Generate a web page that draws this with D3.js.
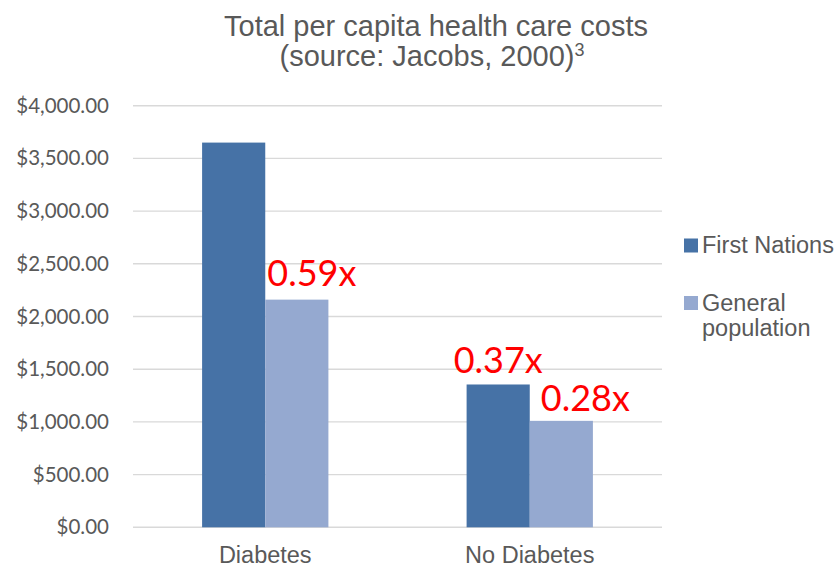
<!DOCTYPE html>
<html>
<head>
<meta charset="utf-8">
<script src="https://cdn.jsdelivr.net/npm/d3@7"></script>
<style>
  body { margin: 0; background: #fff; }
  svg { display: block; }
</style>
</head>
<body>
<script>
// chart data
const categories = ['Diabetes', 'No Diabetes'];
const seriesNames = ['First Nations', 'General population'];
const firstNations = [3650, 1355];
const generalPopulation = [2160, 1010];
const yTicks = [0, 500, 1000, 1500, 2000, 2500, 3000, 3500, 4000];
const ratioLabels = [
  { category: 'Diabetes', series: 1, text: '0.59x' },
  { category: 'No Diabetes', series: 0, text: '0.37x' },
  { category: 'No Diabetes', series: 1, text: '0.28x' }
];

const W = 838, H = 567;
const margin = { top: 105.7, right: 176, bottom: 39.7, left: 133 };
const width = W - margin.left - margin.right;
const height = H - margin.top - margin.bottom;
const colors = ['#4672a6', '#95a9d0'];
const textGrey = '#595959';

const svg = d3.select('body').append('svg')
  .attr('width', W)
  .attr('height', H);

// title
const title = svg.append('text')
  .attr('text-anchor', 'middle')
  .attr('font-family', 'Liberation Sans, Arial, sans-serif')
  .attr('font-size', 29)
  .attr('fill', textGrey);
title.append('tspan').attr('x', 436).attr('y', 35.5).text('Total per capita health care costs');
const t2 = title.append('tspan').attr('x', 432).attr('y', 66);
t2.append('tspan').text('(source: Jacobs, 2000)');
t2.append('tspan').attr('font-size', 18).attr('dy', -10).text('3');

const g = svg.append('g')
  .attr('transform', `translate(${margin.left},${margin.top})`);

const x = d3.scaleBand()
  .domain(categories)
  .range([0, width])
  .paddingInner(0.5225)
  .paddingOuter(0.5225 / 2);

const x1 = d3.scaleBand()
  .domain(d3.range(seriesNames.length))
  .range([0, x.bandwidth()]);

const y = d3.scaleLinear()
  .domain([0, 4000])
  .range([height, 0]);

// gridlines
g.append('g')
  .selectAll('line')
  .data(yTicks)
  .join('line')
  .attr('x1', 0)
  .attr('x2', width)
  .attr('y1', d => y(d))
  .attr('y2', d => y(d))
  .attr('stroke', '#d9d9d9')
  .attr('stroke-width', 1.4);

// y axis labels
const fmt = d3.format('$,.2f');
const yAxis = g.append('g')
  .call(d3.axisLeft(y).tickValues(yTicks).tickFormat(fmt).tickSize(0).tickPadding(24));
yAxis.select('.domain').remove();
yAxis.selectAll('text')
  .attr('font-family', 'Lato, Open Sans, sans-serif')
  .attr('font-size', 20.5)
  .attr('fill', textGrey);

// x axis labels
const xAxis = g.append('g')
  .attr('transform', `translate(0,${height})`)
  .call(d3.axisBottom(x).tickSize(0).tickPadding(19));
xAxis.select('.domain').remove();
xAxis.selectAll('text')
  .attr('font-family', 'Liberation Sans, Arial, sans-serif')
  .attr('font-size', 23.5)
  .attr('fill', textGrey);

// bars
const seriesValues = [firstNations, generalPopulation];
const groups = g.append('g')
  .selectAll('g')
  .data(categories)
  .join('g')
  .attr('transform', d => `translate(${x(d)},0)`);

groups.selectAll('rect')
  .data((c, ci) => seriesValues.map((vals, si) => ({ si, v: vals[ci] })))
  .join('rect')
  .attr('x', d => x1(d.si))
  .attr('width', x1.bandwidth())
  .attr('y', d => y(d.v))
  .attr('height', d => height - y(d.v))
  .attr('fill', d => colors[d.si]);

// ratio annotations
const labelPlacement = [
  { anchor: 'start', dx: 2, dy: -14 },
  { anchor: 'middle', dx: 0, dy: -11.5 },
  { anchor: 'start', dx: 11, dy: -9.5 }
];
g.append('g')
  .selectAll('text')
  .data(ratioLabels)
  .join('text')
  .attr('x', (d, i) => {
    const left = x(d.category) + x1(d.series);
    const p = labelPlacement[i];
    return (p.anchor === 'middle' ? left + x1.bandwidth() / 2 : left) + p.dx;
  })
  .attr('y', (d, i) => {
    const ci = categories.indexOf(d.category);
    return y(seriesValues[d.series][ci]) + labelPlacement[i].dy;
  })
  .attr('text-anchor', (d, i) => labelPlacement[i].anchor)
  .attr('font-family', 'Lato, Open Sans, sans-serif')
  .attr('font-size', 36)
  .attr('fill', '#ff0000')
  .text(d => d.text);

// legend
const legend = svg.append('g')
  .attr('font-family', 'Liberation Sans, Arial, sans-serif')
  .attr('font-size', 23.5)
  .attr('fill', textGrey);

const legendRows = [
  { y: 238.5, lines: ['First Nations'] },
  { y: 296, lines: ['General', 'population'] }
];
legendRows.forEach((row, i) => {
  legend.append('rect')
    .attr('x', 684)
    .attr('y', row.y)
    .attr('width', 14)
    .attr('height', 14)
    .attr('fill', colors[i]);
  const t = legend.append('text');
  row.lines.forEach((line, li) => {
    t.append('tspan')
      .attr('x', 702)
      .attr('y', row.y + 14.5 + li * 25)
      .text(line);
  });
});
</script>
</body>
</html>
